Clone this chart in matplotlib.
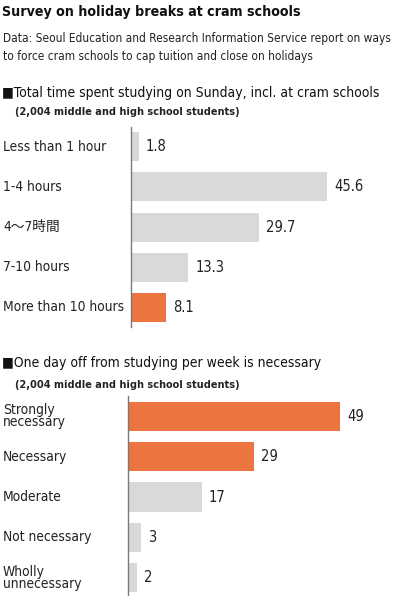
import matplotlib
matplotlib.use("Agg")
import matplotlib.pyplot as plt
from matplotlib.transforms import blended_transform_factory

FONT = ['DejaVu Sans', 'Noto Sans CJK JP']
plt.rcParams['font.family'] = FONT
plt.rcParams['font.stretch'] = 'condensed'

title = "Survey on holiday breaks at cram schools"
subtitle = ["Data: Seoul Education and Research Information Service report on ways",
            "to force cram schools to cap tuition and close on holidays"]

head1 = "■Total time spent studying on Sunday, incl. at cram schools"
sub1 = "(2,004 middle and high school students)"
cats1 = ["Less than 1 hour", "1-4 hours", "4〜7時間", "7-10 hours", "More than 10 hours"]
vals1 = [1.8, 45.6, 29.7, 13.3, 8.1]
labels1 = ["1.8", "45.6", "29.7", "13.3", "8.1"]
hi1 = [False, False, False, False, True]

head2 = "■One day off from studying per week is necessary"
sub2 = "(2,004 middle and high school students)"
cats2 = ["Strongly\nnecessary", "Necessary", "Moderate", "Not necessary", "Wholly\nunnecessary"]
vals2 = [49, 29, 17, 3, 2]
labels2 = ["49", "29", "17", "3", "2"]
hi2 = [True, True, False, False, False]

ORANGE = "#EC7440"
GRAY = "#D9D9D9"
AXIS = "#7A7A7A"

W, H = 400, 596
fig = plt.figure(figsize=(W / 100, H / 100), dpi=100)
fig.patch.set_facecolor("white")


def fx(px):
    return px / W


def fy(py):
    return 1 - py / H


def ftext(x, y, s, **kw):
    fig.text(fx(x), fy(y), s, va='baseline', ha='left', **kw)


ftext(2, 16, title, fontsize=10.2, fontweight='bold', color='#111111')
ftext(3, 42, subtitle[0], fontsize=8.6, color='#222222')
ftext(3, 60, subtitle[1], fontsize=8.6, color='#222222')


def panel(left, top, bottom, scale, cats, vals, labels, hi, head, sub, head_y, sub_y):
    ftext(2, head_y, head, fontsize=10.0, color='#111111')
    ftext(15, sub_y, sub, fontsize=7.8, fontweight='bold', color='#222222')
    ax = fig.add_axes([fx(left), fy(bottom), fx(W - left), (bottom - top) / H])
    n = len(cats)
    ys = list(range(n))
    colors = [ORANGE if h else GRAY for h in hi]
    ax.barh(ys, vals, height=0.725, color=colors, edgecolor='none')
    ax.set_ylim(n - 0.5, -0.5)
    ax.set_xlim(0, (W - left) / scale)
    for s in ['top', 'right', 'bottom']:
        ax.spines[s].set_visible(False)
    ax.spines['left'].set_color(AXIS)
    ax.spines['left'].set_linewidth(1.0)
    ax.set_xticks([])
    ax.set_yticks([])
    ax.patch.set_alpha(0)
    tr = blended_transform_factory(fig.transFigure, ax.transData)
    for y, c, v, l in zip(ys, cats, vals, labels):
        ax.text(fx(3), y, c, transform=tr, va='center', ha='left',
                fontsize=9.9, color='#222222', linespacing=0.85)
        ax.annotate(l, (v, y), xytext=(5, 0), textcoords='offset points',
                    va='center', ha='left', fontsize=10.5, color='#222222')
    return ax


panel(131, 127, 327, 4.3, cats1, vals1, labels1, hi1, head1, sub1, 97, 115)
panel(128, 396, 598, 4.33, cats2, vals2, labels2, hi2, head2, sub2, 367, 388)

fig.savefig("out.png", dpi=100)
